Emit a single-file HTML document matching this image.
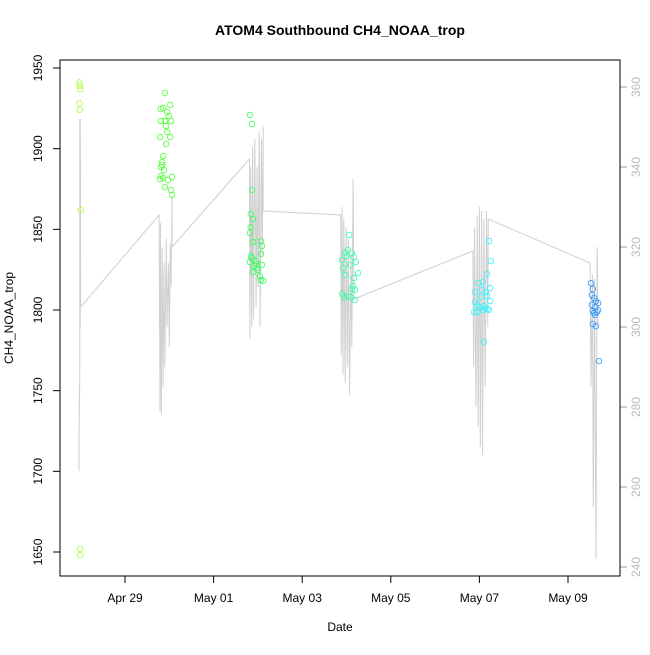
<!DOCTYPE html>
<html><head><meta charset="utf-8">
<style>
body{margin:0;background:#fff;}
svg text{font-family:"Liberation Sans",sans-serif;}
</style></head>
<body>
<svg id="chart" width="650" height="650" xmlns="http://www.w3.org/2000/svg">
<rect width="650" height="650" fill="#fff"/>
<text x="340" y="35" font-size="14" font-weight="bold" text-anchor="middle">ATOM4 Southbound CH4_NOAA_trop</text>
<text x="340" y="631" font-size="12" text-anchor="middle">Date</text>
<text transform="translate(13,318) rotate(-90)" font-size="12" text-anchor="middle">CH4_NOAA_trop</text>
<g id="line"></g>
<g id="pts"></g>
<g id="axes"></g>
<rect x="60" y="60" width="560" height="516" fill="none" stroke="#000" stroke-width="1"/>
</svg>
<script>
// days since Apr 29 00:00
const g1Days=[-1.03,-1.02,-1.01,-1.03,-1.02,-1.0,-1.01,-1.01];
const g1Vals=[1941,1939,1937,1928,1924,1862,1652,1648];
const g2Days=[0.90,0.81,0.86,1.02,0.95,0.99,0.81,0.90,1.04,0.93,0.95,0.79,1.02,0.93,0.86,0.84,0.84,0.81,0.88,0.81,0.86,0.79,0.97,0.90,1.06,1.04,1.06];
const g2Vals=[1934.5,1924.6,1925.2,1927.1,1922.7,1920.2,1917.1,1917.1,1917.1,1914.0,1910.3,1907.2,1907.2,1902.9,1895.4,1891.7,1889.9,1888.6,1886.8,1883.0,1881.8,1881.2,1880.6,1876.2,1882.4,1874.4,1871.3];
const g3Days=[2.82,2.87,2.87,2.84,2.89,2.84,2.82,2.89,3.07,3.09,2.84,2.82,2.87,2.96,2.91,3.07,3.09,2.89,3.00,3.05,3.07,3.12,2.96,2.98];
const g3Vals=[1920.9,1915.3,1874.4,1859.5,1856.4,1851.4,1847.7,1842.1,1842.7,1839.6,1833.4,1829.7,1832.2,1830.3,1827.2,1834.7,1827.9,1823.5,1824.8,1821.0,1818.6,1818.0,1828.5,1826.0];
const g4Days=[5.06,4.97,5.01,5.03,5.12,5.17,4.90,5.21,4.92,4.97,5.08,5.17,5.26,5.15,5.12,5.19,4.90,4.94,5.03,5.10,5.19];
const g4Vals=[1846.5,1835.3,1833.4,1837.2,1835.3,1832.8,1830.9,1829.7,1826.0,1821.7,1827.9,1819.8,1822.9,1814.8,1813.0,1812.4,1809.9,1808.0,1808.6,1808.0,1806.2];
const g5Days=[8.22,8.26,8.17,7.97,8.08,8.24,7.90,8.06,8.15,8.04,8.17,8.24,7.90,7.95,8.01,8.10,8.19,7.95,8.13,8.08,7.88,8.22,8.10];
const g5Vals=[1842.7,1830.3,1822.3,1816.7,1817.3,1813.6,1811.1,1812.4,1811.1,1808.0,1808.6,1805.5,1804.9,1803.0,1801.8,1802.4,1800.6,1798.7,1801.2,1800.0,1798.7,1800.0,1780.1];
const g6Days=[10.52,10.56,10.54,10.59,10.63,10.68,10.54,10.61,10.68,10.56,10.65,10.59,10.61,10.56,10.63,10.70];
const g6Vals=[1816.7,1813.0,1809.3,1807.4,1805.5,1804.3,1803.1,1801.8,1799.9,1799.3,1798.7,1798.1,1796.9,1791.3,1790.0,1768.3];
const groupColors=["#a6ff33","#4dff33","#33ff5a","#33ffa6","#33f5ff","#3399ff"];
const lineDays=[-1.04,-1.03,-1.03,-1.02,-1.02,-1.01,-1.01,-1.0,0.77,0.79,0.8,0.82,0.84,0.86,0.88,0.9,0.93,0.95,0.98,1.0,1.02,1.04,1.06,1.06,2.81,2.82,2.84,2.86,2.88,2.9,2.93,2.96,2.98,3.0,3.03,3.05,3.08,3.1,3.12,3.12,4.87,4.88,4.9,4.92,4.94,4.97,4.99,5.02,5.04,5.07,5.1,5.12,5.15,5.17,7.85,7.87,7.89,7.92,7.95,7.97,8.0,8.02,8.05,8.07,8.1,8.13,8.16,8.19,8.2,10.5,10.52,10.55,10.57,10.6,10.63,10.66,10.68];
const lineVals=[264,285,278,290,352,300,352,305,328,279,326,278,320,285,316,290,322,300,316,295,321,310,333,320,342,297,340,300,345,302,347,305,340,310,349,300,347,318,350,329,328,293,330,288,327,286,325,290,322,283,318,295,337,307,319,290,325,280,328,275,330,270,329,268,327,285,329,300,327,316,285,313,255,312,242,320,300];
const xTickDays=[0,2,4,6,8,10];
const xTickLabels=["Apr 29","May 01","May 03","May 05","May 07","May 09"];
const yTicks=[1650,1700,1750,1800,1850,1900,1950];
const y2Ticks=[240,260,280,300,320,340,360];

const NS="http://www.w3.org/2000/svg";
const xS=d=>125+d*44.3;
const yS=v=>68+(1950-v)*1.6133;
const y2S=v=>87+(360-v)*4;
function mk(tag,attrs,parent){const e=document.createElementNS(NS,tag);for(const k in attrs)e.setAttribute(k,attrs[k]);parent.appendChild(e);return e;}

const lg=document.getElementById('line');
const pl=mk('polyline',{points:lineDays.map((d,i)=>xS(d).toFixed(1)+','+y2S(lineVals[i]).toFixed(1)).join(' '),fill:'none',stroke:'#d0d0d0','stroke-width':1},lg);



const pg=document.getElementById('pts');
const groups=[[g1Days,g1Vals],[g2Days,g2Vals],[g3Days,g3Vals],[g4Days,g4Vals],[g5Days,g5Vals],[g6Days,g6Vals]];
groups.forEach((g,gi)=>{
  g[0].forEach((d,i)=>{
    const c=mk('circle',{cx:xS(d).toFixed(1),cy:yS(g[1][i]).toFixed(1),r:2.8,fill:'none',stroke:groupColors[gi],'stroke-width':0.8},pg);
    
    
  });
});

const ax=document.getElementById('axes');
xTickDays.forEach((d,i)=>{
  const x=xS(d);
  const t=mk('line',{x1:x,x2:x,y1:576,y2:583,stroke:'#000'},ax);
  
  
  const l=mk('text',{x:x,y:602,'font-size':12,'text-anchor':'middle'},ax);
  l.textContent=xTickLabels[i];
  
  
});
yTicks.forEach(v=>{
  const y=yS(v);
  const t=mk('line',{x1:53,x2:60,y1:y,y2:y,stroke:'#000'},ax);
  
  
  const l=mk('text',{transform:`translate(42,${y}) rotate(-90)`,'font-size':12,'text-anchor':'middle'},ax);
  l.textContent=v;
  
  
});
y2Ticks.forEach(v=>{
  const y=y2S(v);
  const t=mk('line',{x1:620,x2:627,y1:y,y2:y,stroke:'#999'},ax);
  
  
  const l=mk('text',{transform:`translate(640,${y}) rotate(-90)`,'font-size':12,'text-anchor':'middle',fill:'#bbb'},ax);
  l.textContent=v;
  
  
});
</script>
</body></html>
